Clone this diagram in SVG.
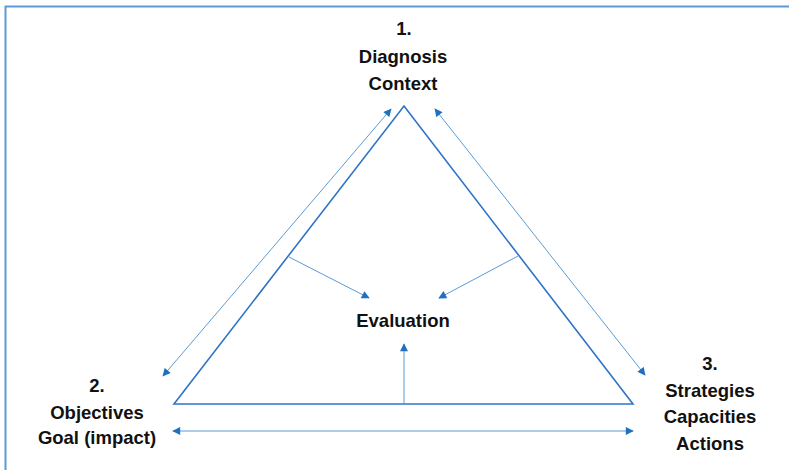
<svg xmlns="http://www.w3.org/2000/svg" width="789" height="470" viewBox="0 0 789 470">
<style>
.t{font-family:"Liberation Sans",Arial,sans-serif;font-weight:bold;font-size:18.5px;fill:#111;text-anchor:middle}
.c{stroke:#5B9BD5;stroke-width:1;fill:none}
</style>
<defs>
<marker id="ah" viewBox="0 0 10 10" refX="9" refY="5" markerWidth="9" markerHeight="8" markerUnits="userSpaceOnUse" orient="auto-start-reverse">
<path d="M0,0 L10,5 L0,10 Z" fill="#1F70C1"/>
</marker>
</defs>
<rect width="789" height="470" fill="#fff"/>
<path d="M5.5,470 V6.5 H789" stroke="#5B9BD5" stroke-width="2" fill="none"/>
<g id="triangle">
<path d="M404,106 L633,404 L174,404 Z" fill="none" stroke="#2E75C5" stroke-width="1.6" stroke-linejoin="miter"/>
</g>
<g id="node1"><text class="t" x="404" y="35">1.</text><text class="t" x="403" y="63">Diagnosis</text><text class="t" x="403" y="90">Context</text></g>
<g id="node2"><text class="t" x="97" y="392">2.</text><text class="t" x="97" y="419">Objectives</text><text class="t" x="97" y="444">Goal (impact)</text></g>
<g id="node3"><text class="t" x="710" y="370">3.</text><text class="t" x="710" y="397">Strategies</text><text class="t" x="710" y="423">Capacities</text><text class="t" x="710" y="450">Actions</text></g>
<g id="evaluation"><text class="t" x="403" y="327">Evaluation</text></g>
<g id="connectors">
<line class="c" x1="163" y1="376" x2="391" y2="109" marker-start="url(#ah)" marker-end="url(#ah)"/>
<line class="c" x1="435" y1="109" x2="645" y2="375" marker-start="url(#ah)" marker-end="url(#ah)"/>
<line class="c" x1="173" y1="431" x2="633" y2="431" marker-start="url(#ah)" marker-end="url(#ah)"/>
<line class="c" x1="289" y1="257" x2="369" y2="298" marker-end="url(#ah)"/>
<line class="c" x1="518" y1="256" x2="439" y2="298" marker-end="url(#ah)"/>
<line class="c" x1="404" y1="404" x2="404" y2="344" marker-end="url(#ah)"/>
</g>
</svg>
